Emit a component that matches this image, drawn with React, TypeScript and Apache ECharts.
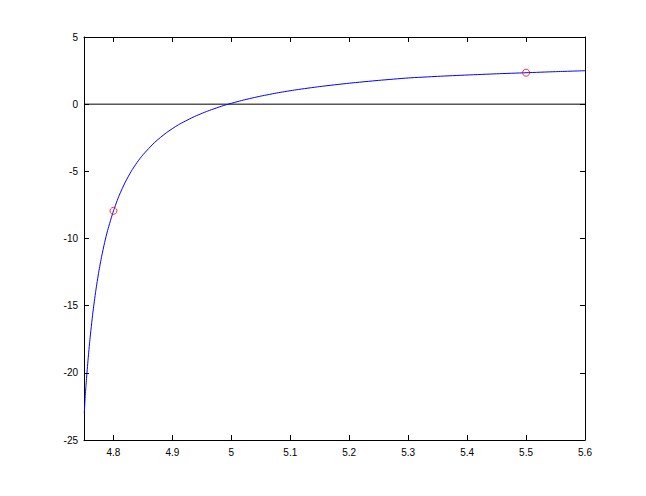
import React, { useEffect, useRef } from "react";
import * as echarts from "echarts";

const xValues = [4.7505, 4.752, 4.754, 4.757, 4.76, 4.765, 4.77, 4.775, 4.78, 4.785, 4.79, 4.8, 4.81, 4.82, 4.83, 4.84, 4.85, 4.87, 4.89, 4.91, 4.935, 4.96, 4.99, 5.02, 5.05, 5.08, 5.11, 5.15, 5.2, 5.25, 5.3, 5.35, 5.4, 5.45, 5.5, 5.55, 5.6];
const yValues = [-23.0, -21.8, -20.58, -18.96, -17.54, -15.54, -13.89, -12.5, -11.32, -10.3, -9.41, -7.94, -6.76, -5.81, -5.01, -4.34, -3.77, -2.84, -2.12, -1.54, -0.97, -0.51, -0.06, 0.3, 0.6, 0.855, 1.07, 1.31, 1.56, 1.77, 1.95, 2.07, 2.17, 2.26, 2.34, 2.42, 2.49];
const markerX = [4.8, 5.5];
const markerY = [-7.94, 2.34];
const xTicks = [4.8, 4.9, 5.0, 5.1, 5.2, 5.3, 5.4, 5.5, 5.6];
const xRange = [4.75, 5.6];
const yRange = [-25, 5];

export default function App() {
  const ref = useRef<HTMLDivElement>(null);
  useEffect(() => {
    if (!ref.current) return;
    const chart = echarts.init(ref.current, null, { renderer: "svg" });
    const font = { fontFamily: "Liberation Sans, Arial, sans-serif", fontSize: 10, color: "#000" };
    const axisLine = { show: true, onZero: false, lineStyle: { color: "#000", width: 1 } };
    const fmt = (v: number) => String(Math.round(v * 10) / 10);
    const xAxisBase = {
      type: "value",
      min: xRange[0],
      max: xRange[1],
      axisLine,
      splitLine: { show: false },
    };
    const yAxisBase = {
      type: "value",
      min: yRange[0],
      max: yRange[1],
      interval: 5,
      axisLine,
      splitLine: { show: false },
    };
    chart.setOption({
      animation: false,
      backgroundColor: "#fff",
      grid: { left: 84, top: 37, right: 61, bottom: 56, containLabel: false },
      xAxis: [
        {
          ...xAxisBase,
          position: "bottom",
          axisTick: { show: true, inside: true, length: 5, customValues: xTicks, lineStyle: { color: "#000" } },
          axisLabel: { show: true, customValues: xTicks, formatter: fmt, margin: 7, ...font },
        },
        {
          ...xAxisBase,
          position: "top",
          axisTick: { show: true, inside: true, length: 5, customValues: xTicks, lineStyle: { color: "#000" } },
          axisLabel: { show: false },
        },
      ],
      yAxis: [
        {
          ...yAxisBase,
          position: "left",
          axisTick: { show: true, inside: true, length: 5, lineStyle: { color: "#000" } },
          axisLabel: { show: true, margin: 6, ...font, formatter: (v: number) => String(v) },
        },
        {
          ...yAxisBase,
          position: "right",
          axisTick: { show: true, inside: true, length: 5, lineStyle: { color: "#000" } },
          axisLabel: { show: false },
        },
      ],
      series: [
        {
          type: "line",
          data: [[xRange[0], 0], [xRange[1], 0]],
          showSymbol: false,
          lineStyle: { color: "#000", width: 1 },
          z: 2,
        },
        {
          type: "line",
          data: xValues.map((x, i) => [x, yValues[i]]),
          showSymbol: false,
          smooth: 0.2,
          lineStyle: { color: "#0000ff", width: 1 },
          z: 3,
        },
        {
          type: "scatter",
          data: markerX.map((x, i) => [x, markerY[i]]),
          symbol: "circle",
          symbolSize: 7,
          itemStyle: { color: "rgba(0,0,0,0)", borderColor: "#ff0000", borderWidth: 1 },
          z: 4,
        },
      ],
    });
    return () => chart.dispose();
  }, []);
  return <div ref={ref} style={{ width: 646, height: 496, position: "absolute", left: 0, top: 0 }} />;
}
